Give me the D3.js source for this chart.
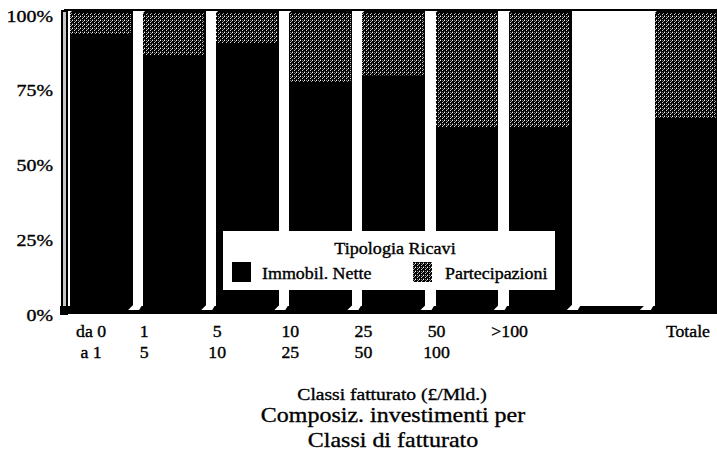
<!DOCTYPE html>
<html>
<head>
<meta charset="utf-8">
<script src="https://cdn.jsdelivr.net/npm/d3@7/dist/d3.min.js"></script>
<style>
  html, body { margin: 0; padding: 0; background: #fff; }
  svg { display: block; font-family: "Liberation Serif", "DejaVu Serif", serif; }
  text { fill: #000; stroke: #000; stroke-width: 0.35px; }
</style>
</head>
<body>
<svg id="chart" width="717" height="452"></svg>
<script>
// Revenue classes (£/Mld.) — the eighth slot is left empty before the total
const categories = ["0-1", "1-5", "5-10", "10-25", "25-50", "50-100", ">100", "gap", "Totale"];
const labelTop = ["da 0", "1", "5", "10", "25", "50", ">100", "", "Totale"];
const labelBottom = ["a 1", "5", "10", "25", "50", "100", "", "", ""];

// Share of investments (%)
const immobilNette = [93, 86, 90, 77, 79, 62, 62, null, 65];
const partecipazioni = [7, 14, 10, 23, 21, 38, 38, null, 35];

const seriesNames = ["Immobil. Nette", "Partecipazioni"];
const yTicks = [0, 25, 50, 75, 100];

const svg = d3.select("#chart");
const W = 717;

// Text set in a slightly widened Times face
function label(parent, x, y, str, size, sx, anchor) {
  return parent.append("g").attr("transform", `translate(${x},${y}) scale(${sx},1)`)
    .append("text").attr("text-anchor", anchor || "middle").attr("font-size", size)
    .attr("stroke-width", 0.35 / sx).text(str);
}

// Dithered texture for the second series
const defs = svg.append("defs");
const pat = defs.append("pattern")
  .attr("id", "dots").attr("patternUnits", "userSpaceOnUse")
  .attr("width", 4).attr("height", 4);
pat.append("rect").attr("width", 4).attr("height", 4).attr("fill", "#000");
[[0, 0, "#fff"], [2, 2, "#d8d8d8"], [2, 0, "#777"], [0, 3, "#555"], [3, 1, "#999"]].forEach(([px, py, c]) =>
  pat.append("rect").attr("x", px).attr("y", py).attr("width", 1).attr("height", 1).attr("fill", c));

const x = d3.scaleBand().domain(categories).range([70, 717]).paddingInner(0.15).paddingOuter(0);
const y = d3.scaleLinear().domain([0, 100]).range([312, 13]);
const depth = 4;
const bw = x.bandwidth();

const g = svg.append("g").attr("shape-rendering", "crispEdges");

// Left wall of the 3D box
g.append("rect").attr("x", 62).attr("y", y(100) - 2).attr("width", 5).attr("height", y(0) - y(100) + 4)
  .attr("fill", "#c8c8c8").attr("stroke", "#000").attr("stroke-width", 1.5);

// Back top edge
g.append("line").attr("x1", 64).attr("x2", W).attr("y1", y(100) - 3).attr("y2", y(100) - 3)
  .attr("stroke", "#000").attr("stroke-width", 2);

// Stacked data
const rows = categories.map((c, i) => ({ c, a: immobilNette[i], b: partecipazioni[i] }))
  .filter(d => d.a != null);

const bars = g.selectAll("g.bar").data(rows).join("g").attr("class", "bar");

// Top face (depth)
bars.append("path")
  .attr("d", d => {
    const x0 = x(d.c), t = y(d.a + d.b);
    return `M${x0},${t} L${x0 + depth},${t - depth} L${x0 + bw},${t - depth} L${x0 + bw},${t} Z`;
  })
  .attr("fill", "#000").attr("shape-rendering", "auto");

// Immobilizzazioni nette (solid black)
bars.append("rect")
  .attr("x", d => x(d.c)).attr("width", bw)
  .attr("y", d => y(d.a)).attr("height", d => y(0) - y(d.a))
  .attr("fill", "#000");

// Partecipazioni (dotted)
bars.append("rect")
  .attr("x", d => x(d.c)).attr("width", bw)
  .attr("y", d => y(d.a + d.b)).attr("height", d => y(d.a) - y(d.a + d.b))
  .attr("fill", "url(#dots)");

// Right edge of each bar
bars.append("line")
  .attr("x1", d => x(d.c) + bw).attr("x2", d => x(d.c) + bw)
  .attr("y1", d => y(d.a + d.b) - depth).attr("y2", y(0))
  .attr("stroke", "#000").attr("stroke-width", 1.5);

// Floor strip
g.append("rect").attr("x", 60).attr("y", y(0) - 6).attr("width", W - 60).attr("height", 8).attr("fill", "#000");
// Floor visible between bars
const gaps = categories.slice(0, -1);
g.selectAll("path.gapfloor").data(gaps).join("path").attr("class", "gapfloor")
  .attr("shape-rendering", "auto")
  .attr("d", c => {
    const l = x(c) + bw + 1, r = x(categories[categories.indexOf(c) + 1]) - 1;
    const t = y(0) - 7, b = y(0) - 2;
    return `M${l},${t} L${r},${t} L${r - 3},${b} L${l - 5},${b} Z`;
  })
  .attr("fill", "#fff");
g.append("path").attr("d", `M60,${y(0) + 2} L66,${y(0) - 3}`).attr("stroke", "#000").attr("stroke-width", 1.5);

// Y axis labels
const yAxis = svg.append("g");
yTicks.forEach(v => label(yAxis, 53, y(v) + 8.5, v + "%", 17, 1.17, "end"));

// X axis labels (two rows)
const xl = svg.append("g");
categories.forEach((c, i) => {
  if (!labelTop[i]) return;
  const cx = i === 0 ? x(c) + bw / 2 - 10 : (c === "Totale" ? x(c) + bw / 2 + 2 : x(c) + 1);
  label(xl, cx, 337, labelTop[i], 16, 1.11);
  if (labelBottom[i]) label(xl, cx, 358, labelBottom[i], 16, 1.11);
});

// Legend
const lg = svg.append("g").attr("transform", "translate(223,231)");
lg.append("rect").attr("width", 332).attr("height", 59).attr("fill", "#fff");
label(lg, 172, 23, "Tipologia Ricavi", 16, 1.13);
const items = [{ name: seriesNames[0], fill: "#000", sx: 9, tx: 39 }, { name: seriesNames[1], fill: "url(#dots)", sx: 190, tx: 222 }];
items.forEach(it => {
  lg.append("rect").attr("x", it.sx).attr("y", 31).attr("width", 19).attr("height", 20).attr("fill", it.fill)
    .attr("shape-rendering", "crispEdges");
  label(lg, it.tx, 48, it.name, 16, 1.12, "start");
});

// Axis title and chart title
label(svg, 392, 400, "Classi fatturato (£/Mld.)", 17, 1.15);
label(svg, 393, 422, "Composiz. investimenti per", 22, 1.09);
label(svg, 393, 447, "Classi di fatturato", 22, 1.09);
</script>
</body>
</html>
